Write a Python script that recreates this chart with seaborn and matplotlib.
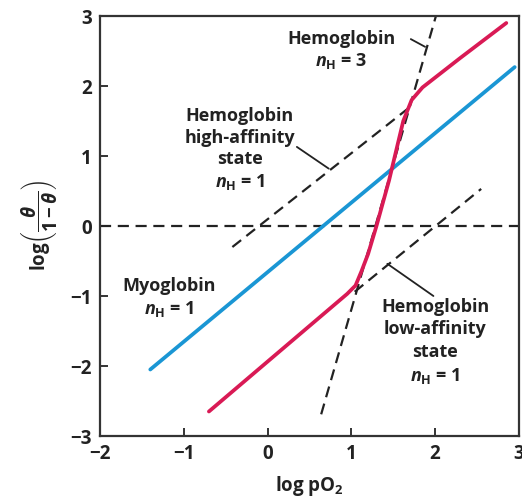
import numpy as np
import pandas as pd
import seaborn as sns
from matplotlib import pyplot as plt

# curves (x = log pO2, y = log(theta/(1-theta)))
myo_x = [-1.40, 2.95]
myo_y = [-2.05, 2.27]
hb_x = [-0.70, 0.95, 1.05, 1.12, 1.20, 1.30, 1.45, 1.55, 1.62, 1.72, 1.85, 2.30, 2.85]
hb_y = [-2.65, -0.97, -0.85, -0.65, -0.40, 0.00, 0.65, 1.15, 1.50, 1.80, 1.98, 2.40, 2.90]
high_x = [-0.42, 1.70]
high_y = [-0.30, 1.70]
low_x = [1.04, 2.55]
low_y = [-0.94, 0.53]
n3_x = [0.64, 2.01]
n3_y = [-2.69, 3.00]

sns.set_style("ticks")
plt.rcParams['font.family'] = ['Open Sans', 'DejaVu Sans']
plt.rcParams['font.weight'] = 'bold'
plt.rcParams['mathtext.fontset'] = 'custom'
plt.rcParams['mathtext.it'] = 'Open Sans:italic:bold'
plt.rcParams['mathtext.rm'] = 'Open Sans:bold'
plt.rcParams['mathtext.bf'] = 'Open Sans:bold'

fig = plt.figure(figsize=(5.22, 5.0), dpi=100)
ax = fig.add_axes([0.1916, 0.128, 0.8024, 0.840])

dash = dict(color="#222222", lw=1.6, linestyle=(0, (5, 3)))
ax.axhline(0, **dash)
ax.plot(high_x, high_y, **dash)
ax.plot(low_x, low_y, **dash)
ax.plot(n3_x, n3_y, **dash)

sns.lineplot(x=myo_x, y=myo_y, ax=ax, color="#1a96d4", lw=2.7, sort=False, estimator=None)
sns.lineplot(x=hb_x, y=hb_y, ax=ax, color="#d91a55", lw=2.7, sort=False, estimator=None)

# leader lines
ax.plot([1.71, 1.88], [2.67, 2.56], color="#222222", lw=1.3)
ax.plot([0.35, 0.73], [1.13, 0.82], color="#222222", lw=1.3)
ax.plot([1.43, 1.98], [-0.54, -1.00], color="#222222", lw=1.3)

txt = dict(ha="center", va="center", fontsize=13, fontweight="bold", color="#222222")
label_lines = [
    (0.88, 2.67, "Hemoglobin"), (0.88, 2.36, r"$n_{\mathrm{H}}$ = 3"),
    (-0.33, 1.57, "Hemoglobin"), (-0.33, 1.26, "high-affinity"),
    (-0.33, 0.96, "state"), (-0.33, 0.63, r"$n_{\mathrm{H}}$ = 1"),
    (-1.17, -0.86, "Myoglobin"), (-1.17, -1.19, r"$n_{\mathrm{H}}$ = 1"),
    (2.0, -1.16, "Hemoglobin"), (2.0, -1.47, "low-affinity"),
    (2.0, -1.80, "state"), (2.0, -2.14, r"$n_{\mathrm{H}}$ = 1"),
]
for lx, ly, s in label_lines:
    ax.text(lx, ly, s, **txt)

ax.set_xlim(-2, 3)
ax.set_ylim(-3, 3)
ax.set_xticks([-2, -1, 0, 1, 2, 3])
ax.set_yticks([-3, -2, -1, 0, 1, 2, 3])
ax.set_xticklabels(["\u22122", "\u22121", "0", "1", "2", "3"])
ax.set_yticklabels(["\u22123", "\u22122", "\u22121", "0", "1", "2", "3"])
ax.tick_params(direction="in", length=6, width=1.4, color="#333333", labelsize=13.5,
               labelcolor="#222222", pad=6)
for lab in ax.get_xticklabels() + ax.get_yticklabels():
    lab.set_fontweight("bold")
for s in ax.spines.values():
    s.set_linewidth(1.6)
    s.set_color("#333333")

ax.set_xlabel(r"log pO$_{\mathrm{2}}$", fontsize=13.5, fontweight="bold", color="#222222", labelpad=7)
ax.set_ylabel(r"log$\left(\dfrac{\theta}{1-\theta}\right)$", fontsize=13.5, fontweight="bold",
              color="#222222", labelpad=8)

fig.savefig("out.png", dpi=100)
